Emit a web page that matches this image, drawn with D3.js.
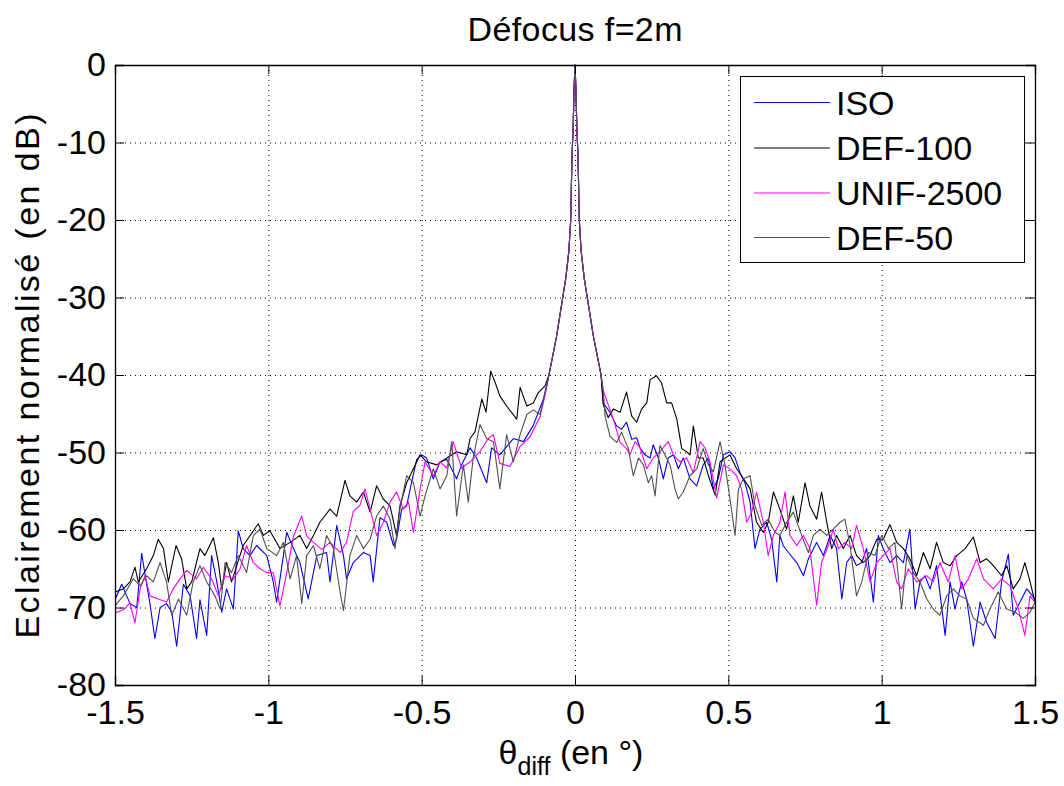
<!DOCTYPE html>
<html><head><meta charset="utf-8">
<script src="https://cdn.jsdelivr.net/npm/d3@7"></script>
<style>body{margin:0;background:#fff}text{font-family:"Liberation Sans",Arial,sans-serif;fill:#000}</style>
</head><body><svg id="c" width="1064" height="786"></svg>
<script>
const titleText = "Défocus f=2m";
const yLabel = "Eclairement normalisé (en dB)";
const xTicks = [-1.5, -1, -0.5, 0, 0.5, 1, 1.5];
const xTickLabels = ["-1.5", "-1", "-0.5", "0", "0.5", "1", "1.5"];
const yTicks = [0, -10, -20, -30, -40, -50, -60, -70, -80];
const yTickLabels = ["0", "-10", "-20", "-30", "-40", "-50", "-60", "-70", "-80"];
const seriesNames = ["ISO", "DEF-100", "UNIF-2500", "DEF-50"];

const peakCenter = [[-0.085,-40],[-0.07,-37],[-0.06,-35],[-0.05,-32.5],[-0.04,-30],[-0.03,-27.5],[-0.02,-24],[-0.014,-20],[-0.01,-12],[-0.006,-8],[-0.003,-3],[0,0],[0.003,-3],[0.006,-8],[0.01,-12],[0.014,-20],[0.02,-24],[0.03,-27.5],[0.04,-30],[0.05,-32.5],[0.06,-35],[0.07,-37],[0.085,-40]];

const isoLeft = [[-1.5,-69],[-1.478,-67],[-1.451,-69.5],[-1.429,-70],[-1.413,-63],[-1.397,-67],[-1.386,-69.5],[-1.37,-74],[-1.353,-70],[-1.332,-69.5],[-1.315,-70.6],[-1.299,-75],[-1.288,-71],[-1.277,-67],[-1.255,-68.5],[-1.234,-74],[-1.223,-69],[-1.201,-73.6],[-1.185,-63.3],[-1.168,-66.7],[-1.152,-70.6],[-1.136,-67.6],[-1.114,-70.2],[-1.098,-60.1],[-1.082,-62.4],[-1.06,-63.3],[-1.038,-62],[-1.005,-63.3],[-0.984,-66.7],[-0.973,-69.3],[-0.94,-60.3],[-0.918,-62.4],[-0.897,-64.2],[-0.87,-68.9],[-0.842,-63.3],[-0.81,-62.9],[-0.799,-66.7],[-0.777,-59.4],[-0.755,-63.3],[-0.745,-66.3],[-0.723,-64.2],[-0.69,-62.9],[-0.668,-63.3],[-0.658,-66.7],[-0.636,-58.4],[-0.614,-59],[-0.592,-62],[-0.582,-61.2],[-0.565,-57.3],[-0.549,-56.9],[-0.533,-53.9],[-0.516,-50.9],[-0.5,-50.3],[-0.484,-50.7],[-0.462,-53.4],[-0.44,-51.2],[-0.418,-50.9],[-0.386,-53.4],[-0.37,-51.6],[-0.342,-49.4],[-0.321,-50.7],[-0.288,-53.9],[-0.272,-49.4],[-0.245,-50.3],[-0.201,-48.2],[-0.168,-48.6],[-0.136,-46.5],[-0.103,-43.1]];
const isoRight = [[0.092,-43.6],[0.114,-44.8],[0.136,-46.6],[0.152,-47],[0.168,-46.1],[0.185,-48.3],[0.201,-48.1],[0.212,-49.4],[0.228,-50.3],[0.245,-50.7],[0.255,-49],[0.272,-50.7],[0.288,-53.4],[0.304,-50.7],[0.321,-50.3],[0.337,-52.1],[0.353,-50.7],[0.375,-53.4],[0.397,-54.3],[0.418,-51.6],[0.435,-50.7],[0.451,-54.7],[0.467,-53.4],[0.484,-50.3],[0.505,-49.9],[0.522,-50.7],[0.538,-52.6],[0.554,-53.9],[0.571,-56.4],[0.587,-62.4],[0.603,-59.9],[0.625,-59],[0.641,-61.2],[0.658,-66.7],[0.668,-60.7],[0.679,-62],[0.696,-62.9],[0.723,-64.2],[0.745,-65.9],[0.761,-63.7],[0.788,-61.6],[0.81,-63.3],[0.832,-60.7],[0.853,-62.4],[0.87,-68.9],[0.886,-64.2],[0.902,-63.3],[0.918,-64.6],[0.935,-64.2],[0.951,-62.4],[0.973,-69.3],[0.989,-60.7],[1.005,-62.4],[1.027,-64.2],[1.049,-63.3],[1.071,-64.2],[1.092,-59.9],[1.109,-70.2],[1.125,-66.7],[1.141,-65.9],[1.158,-67.6],[1.179,-64.6],[1.207,-73.6],[1.223,-66.7],[1.239,-70.2],[1.261,-66.7],[1.277,-68.9],[1.299,-75],[1.321,-69.3],[1.342,-71.9],[1.37,-74],[1.391,-66.7],[1.413,-63.1],[1.429,-71],[1.451,-69.3],[1.473,-67.6],[1.5,-68.9]];

const def100Left = [[-1.5,-68],[-1.473,-67.6],[-1.451,-66.7],[-1.435,-64.8],[-1.424,-66.7],[-1.397,-65],[-1.375,-63.3],[-1.359,-61.2],[-1.342,-62.4],[-1.326,-66.7],[-1.301,-62],[-1.283,-63.7],[-1.266,-67.6],[-1.25,-66.7],[-1.223,-62.4],[-1.207,-63.3],[-1.179,-61],[-1.163,-64.2],[-1.152,-67.6],[-1.136,-64.2],[-1.12,-66.7],[-1.103,-64.6],[-1.082,-62],[-1.033,-59.2],[-1.016,-60.7],[-0.995,-60.1],[-0.962,-62.4],[-0.929,-61.6],[-0.897,-60.7],[-0.875,-62.4],[-0.853,-60.7],[-0.832,-59],[-0.799,-57.3],[-0.777,-58.2],[-0.75,-53.6],[-0.734,-55.6],[-0.712,-56.4],[-0.69,-55.1],[-0.668,-57.7],[-0.647,-54.3],[-0.625,-56],[-0.603,-56.9],[-0.582,-60.7],[-0.571,-56.9],[-0.549,-53.9],[-0.527,-52.1],[-0.505,-50.3],[-0.484,-51.2],[-0.451,-51.6],[-0.418,-50.7],[-0.386,-49.9],[-0.353,-50.3],[-0.342,-48.2],[-0.326,-47.3],[-0.304,-43.1],[-0.29,-44.8],[-0.275,-39.5],[-0.26,-41],[-0.245,-42.7],[-0.223,-44],[-0.19,-45.7],[-0.179,-41.6],[-0.157,-44],[-0.136,-43.6],[-0.12,-42.3],[-0.098,-41.4]];
const def100Right = [[0.092,-43.8],[0.108,-45.5],[0.125,-44.4],[0.147,-44.8],[0.168,-42.2],[0.185,-45.3],[0.201,-46.1],[0.217,-44.4],[0.234,-43.6],[0.245,-40.6],[0.266,-40.1],[0.282,-41],[0.299,-43.6],[0.315,-43.6],[0.332,-45.7],[0.348,-49.5],[0.364,-49.9],[0.375,-50.3],[0.386,-46.6],[0.402,-50.7],[0.418,-50.7],[0.435,-53],[0.457,-55.5],[0.473,-51.2],[0.505,-50.3],[0.527,-52.1],[0.543,-53],[0.571,-54.7],[0.592,-59],[0.614,-60.3],[0.63,-59],[0.647,-55.1],[0.668,-57.3],[0.69,-59.9],[0.712,-55.6],[0.728,-59],[0.75,-53.9],[0.766,-56.9],[0.788,-58.6],[0.804,-55.1],[0.821,-59],[0.837,-62.4],[0.853,-60.7],[0.875,-62.4],[0.897,-60.7],[0.918,-63.3],[0.94,-64.2],[0.962,-63.3],[0.984,-61.2],[1.005,-61.2],[1.027,-59.3],[1.049,-61.6],[1.071,-62.4],[1.092,-63.7],[1.114,-65.9],[1.136,-62.9],[1.158,-65],[1.179,-61.6],[1.201,-64.2],[1.223,-64.6],[1.245,-63.3],[1.272,-62.4],[1.299,-60.9],[1.321,-64.2],[1.342,-63.7],[1.364,-64.6],[1.391,-65.9],[1.408,-64.6],[1.429,-67.6],[1.451,-66.3],[1.467,-64.2],[1.484,-66.7],[1.5,-69.3]];

const unifLeft = [[-1.5,-70.7],[-1.473,-70.3],[-1.451,-69.4],[-1.435,-72],[-1.418,-67.6],[-1.402,-65.9],[-1.386,-68.5],[-1.359,-68.9],[-1.332,-69.3],[-1.31,-67.6],[-1.288,-66.3],[-1.266,-65.2],[-1.234,-66.3],[-1.212,-64.8],[-1.185,-66.3],[-1.163,-68.5],[-1.141,-65.9],[-1.114,-66.3],[-1.092,-65],[-1.071,-62],[-1.049,-64.2],[-1.027,-65],[-1.005,-65.5],[-0.984,-65.5],[-0.962,-69.8],[-0.94,-65.5],[-0.918,-60.8],[-0.891,-58.2],[-0.875,-60.8],[-0.853,-61.6],[-0.826,-62.5],[-0.799,-61.6],[-0.766,-62.9],[-0.745,-61.6],[-0.723,-57.6],[-0.701,-56.8],[-0.685,-54.7],[-0.668,-57.3],[-0.647,-60.7],[-0.625,-59],[-0.603,-56.4],[-0.582,-55.1],[-0.56,-57.3],[-0.543,-56.4],[-0.527,-60.3],[-0.505,-54.7],[-0.489,-51.2],[-0.462,-53],[-0.44,-51.2],[-0.418,-52],[-0.397,-48.6],[-0.37,-52],[-0.342,-51.2],[-0.31,-49.9],[-0.283,-48.2],[-0.266,-47.7],[-0.245,-51.4],[-0.212,-51.8],[-0.179,-49.2],[-0.147,-48],[-0.114,-45.4],[-0.097,-42.5]];
const unifRight = [[0.092,-42],[0.125,-45.7],[0.147,-48.7],[0.168,-49.5],[0.179,-50.3],[0.196,-48.6],[0.212,-49.4],[0.234,-52.1],[0.255,-50.7],[0.277,-49.9],[0.304,-48.6],[0.321,-50.3],[0.342,-51.2],[0.364,-50.7],[0.386,-52.6],[0.408,-48.6],[0.424,-49.4],[0.44,-51.2],[0.462,-55.9],[0.484,-51.6],[0.505,-52.1],[0.527,-53],[0.543,-54.7],[0.56,-59],[0.576,-57.7],[0.592,-55.1],[0.614,-59],[0.63,-63.3],[0.647,-60.7],[0.668,-59],[0.685,-55.1],[0.701,-60.7],[0.723,-62],[0.745,-60.7],[0.766,-62.4],[0.788,-69.7],[0.804,-64.2],[0.826,-62],[0.842,-59.9],[0.859,-62.4],[0.88,-61.6],[0.902,-62.4],[0.918,-59.4],[0.94,-62.4],[0.962,-66.7],[0.984,-64.2],[1.005,-63.3],[1.027,-62.4],[1.049,-66.7],[1.065,-67.6],[1.087,-65],[1.114,-66.7],[1.147,-65.9],[1.168,-66.7],[1.19,-64.2],[1.217,-66.7],[1.239,-63.3],[1.261,-67.6],[1.283,-66.3],[1.31,-63.7],[1.332,-66.3],[1.364,-67.6],[1.391,-66.3],[1.418,-67.2],[1.446,-70.2],[1.467,-73.6],[1.484,-68.5],[1.5,-69.3]];

const def50Left = [[-1.5,-69.8],[-1.473,-68.5],[-1.44,-66.3],[-1.418,-67.2],[-1.397,-65.9],[-1.375,-66.7],[-1.353,-64.2],[-1.332,-66.7],[-1.315,-71],[-1.293,-68.9],[-1.266,-71],[-1.245,-66.7],[-1.223,-64.6],[-1.201,-66.7],[-1.174,-68.5],[-1.157,-70.2],[-1.141,-64.2],[-1.12,-65.5],[-1.098,-63.3],[-1.071,-65.5],[-1.049,-60.7],[-1.027,-59.9],[-1.005,-62.4],[-0.973,-63.3],[-0.951,-61.6],[-0.929,-66.3],[-0.908,-63.3],[-0.891,-69.5],[-0.875,-63.3],[-0.853,-62],[-0.832,-65],[-0.81,-60.7],[-0.788,-62.4],[-0.766,-68],[-0.755,-70.4],[-0.734,-63.3],[-0.712,-60.7],[-0.69,-62.4],[-0.668,-61.2],[-0.647,-58.2],[-0.625,-56.9],[-0.603,-58.6],[-0.587,-62.4],[-0.571,-57.3],[-0.549,-53],[-0.527,-53.9],[-0.505,-58.2],[-0.489,-55.6],[-0.462,-52.1],[-0.44,-54.7],[-0.418,-53],[-0.402,-48.6],[-0.386,-58.2],[-0.364,-51.6],[-0.348,-56.4],[-0.332,-50.7],[-0.31,-46.4],[-0.288,-48.2],[-0.266,-48.6],[-0.245,-54.7],[-0.223,-47.7],[-0.201,-51.2],[-0.179,-47.7],[-0.157,-45.1],[-0.136,-44.5],[-0.114,-45.1],[-0.092,-41.4]];
const def50Right = [[0.092,-41.9],[0.098,-45.3],[0.114,-47.9],[0.136,-48.7],[0.152,-47.4],[0.174,-49.5],[0.19,-53],[0.207,-50.7],[0.223,-51.6],[0.239,-53.9],[0.25,-53],[0.261,-55.6],[0.277,-49.1],[0.293,-50.3],[0.31,-51.6],[0.326,-54.7],[0.337,-56],[0.353,-55.1],[0.375,-53],[0.397,-52.1],[0.418,-49.5],[0.435,-51.6],[0.451,-52.5],[0.473,-48.6],[0.489,-51.6],[0.505,-55.9],[0.522,-60.7],[0.533,-54.7],[0.549,-53.4],[0.571,-53],[0.587,-56.9],[0.609,-59.4],[0.63,-58.6],[0.652,-60.3],[0.668,-60.7],[0.69,-59],[0.712,-57.7],[0.739,-60.7],[0.761,-62.9],[0.777,-60.7],[0.799,-59.9],[0.821,-60.7],[0.842,-59.9],[0.864,-59],[0.88,-58.6],[0.897,-62],[0.918,-68.5],[0.935,-66.7],[0.957,-62.9],[0.978,-63.3],[1.0,-60.7],[1.022,-62.4],[1.043,-61.6],[1.065,-70.2],[1.082,-63.3],[1.103,-65.5],[1.125,-66.7],[1.147,-68.9],[1.168,-70.2],[1.19,-71],[1.212,-68.5],[1.234,-67.6],[1.255,-68.5],[1.277,-68.9],[1.299,-71.4],[1.332,-72.3],[1.353,-70.2],[1.38,-68],[1.408,-70.2],[1.435,-70.6],[1.462,-71.4],[1.484,-70.6],[1.5,-69.3]];

const ISO = isoLeft.concat(peakCenter, isoRight);
const DEF100 = def100Left.concat(peakCenter, def100Right);
const UNIF2500 = unifLeft.concat(peakCenter, unifRight);
const DEF50 = def50Left.concat(peakCenter, def50Right);
const seriesData = [ISO, DEF100, UNIF2500, DEF50];
const seriesColors = ["#0000ff", "#000000", "#ff00ff", "#505050"];

const svg = d3.select("#c");
const M = {left:115, top:65, right:1035, bottom:685};
const x = d3.scaleLinear().domain([-1.5,1.5]).range([M.left, M.right]);
const y = d3.scaleLinear().domain([-80,0]).range([M.bottom, M.top]);
const FS = 34;
const FONT = "'Liberation Sans',Arial,sans-serif";

svg.append("rect").attr("width",1064).attr("height",786).attr("fill","#fff");

// grid
const grid = svg.append("g").attr("stroke","#000").attr("stroke-width",1).attr("stroke-dasharray","1,4");
xTicks.forEach(t => grid.append("line").attr("x1",x(t)+0.5).attr("x2",x(t)+0.5).attr("y1",M.top).attr("y2",M.bottom));
yTicks.forEach(t => grid.append("line").attr("y1",y(t)+0.5).attr("y2",y(t)+0.5).attr("x1",M.left).attr("x2",M.right));

// series
svg.append("clipPath").attr("id","clip").append("rect").attr("x",M.left).attr("y",M.top-1).attr("width",M.right-M.left).attr("height",M.bottom-M.top+1);
const line = d3.line().x(d=>x(d[0])).y(d=>y(d[1]));
const gS = svg.append("g").attr("clip-path","url(#clip)");
seriesData.forEach((s,i)=>{
  gS.append("path").attr("d",line(s)).attr("fill","none").attr("stroke",seriesColors[i]).attr("stroke-width",1.1).attr("stroke-linejoin","round");
});

// axes with inward ticks
const ax = svg.append("g");
ax.append("g").attr("transform",`translate(0,${M.bottom})`).call(d3.axisBottom(x).tickValues(xTicks).tickSize(-9).tickPadding(15).tickFormat((d,i)=>xTickLabels[i]));
ax.append("g").attr("transform",`translate(0,${M.top})`).call(d3.axisTop(x).tickValues(xTicks).tickSize(-9).tickFormat(""));
ax.append("g").attr("transform",`translate(${M.left},0)`).call(d3.axisLeft(y).tickValues(yTicks).tickSize(-9).tickPadding(9).tickFormat((d,i)=>yTickLabels[i]));
ax.append("g").attr("transform",`translate(${M.right},0)`).call(d3.axisRight(y).tickValues(yTicks).tickSize(-9).tickFormat(""));
ax.selectAll(".domain").attr("stroke","#000").attr("stroke-width",1.3);
ax.selectAll(".tick line").attr("stroke","#000");
ax.selectAll(".tick text").attr("font-size",FS).attr("font-family",FONT).attr("fill","#000");

// title
svg.append("text").attr("x",575).attr("y",41).attr("text-anchor","middle").attr("font-size",FS)
  .attr("textLength",215).attr("lengthAdjust","spacing").text(titleText);

// x label
const xl = svg.append("text").attr("x",571).attr("y",764).attr("text-anchor","middle").attr("font-size",FS);
xl.append("tspan").text("θ");
xl.append("tspan").attr("font-size",25).attr("dy",11).text("diff");
xl.append("tspan").attr("dy",-11).text(" (en °)");

// y label
svg.append("text").attr("transform","translate(39,376) rotate(-90)").attr("text-anchor","middle").attr("font-size",FS)
  .attr("textLength",525).attr("lengthAdjust","spacing").text(yLabel);

// legend
const lg = svg.append("g");
lg.append("rect").attr("x",740.5).attr("y",76.5).attr("width",284).attr("height",186).attr("fill","#fff").attr("stroke","#000").attr("stroke-width",1);
const rowY = [102.5, 148, 193, 237.5];
seriesNames.forEach((n,i)=>{
  lg.append("line").attr("x1",754).attr("x2",830).attr("y1",rowY[i]).attr("y2",rowY[i]).attr("stroke",seriesColors[i]).attr("stroke-width",1.1);
  lg.append("text").attr("x",836).attr("y",rowY[i]).attr("dy","0.36em").attr("font-size",FS).text(n);
});
</script></body></html>
